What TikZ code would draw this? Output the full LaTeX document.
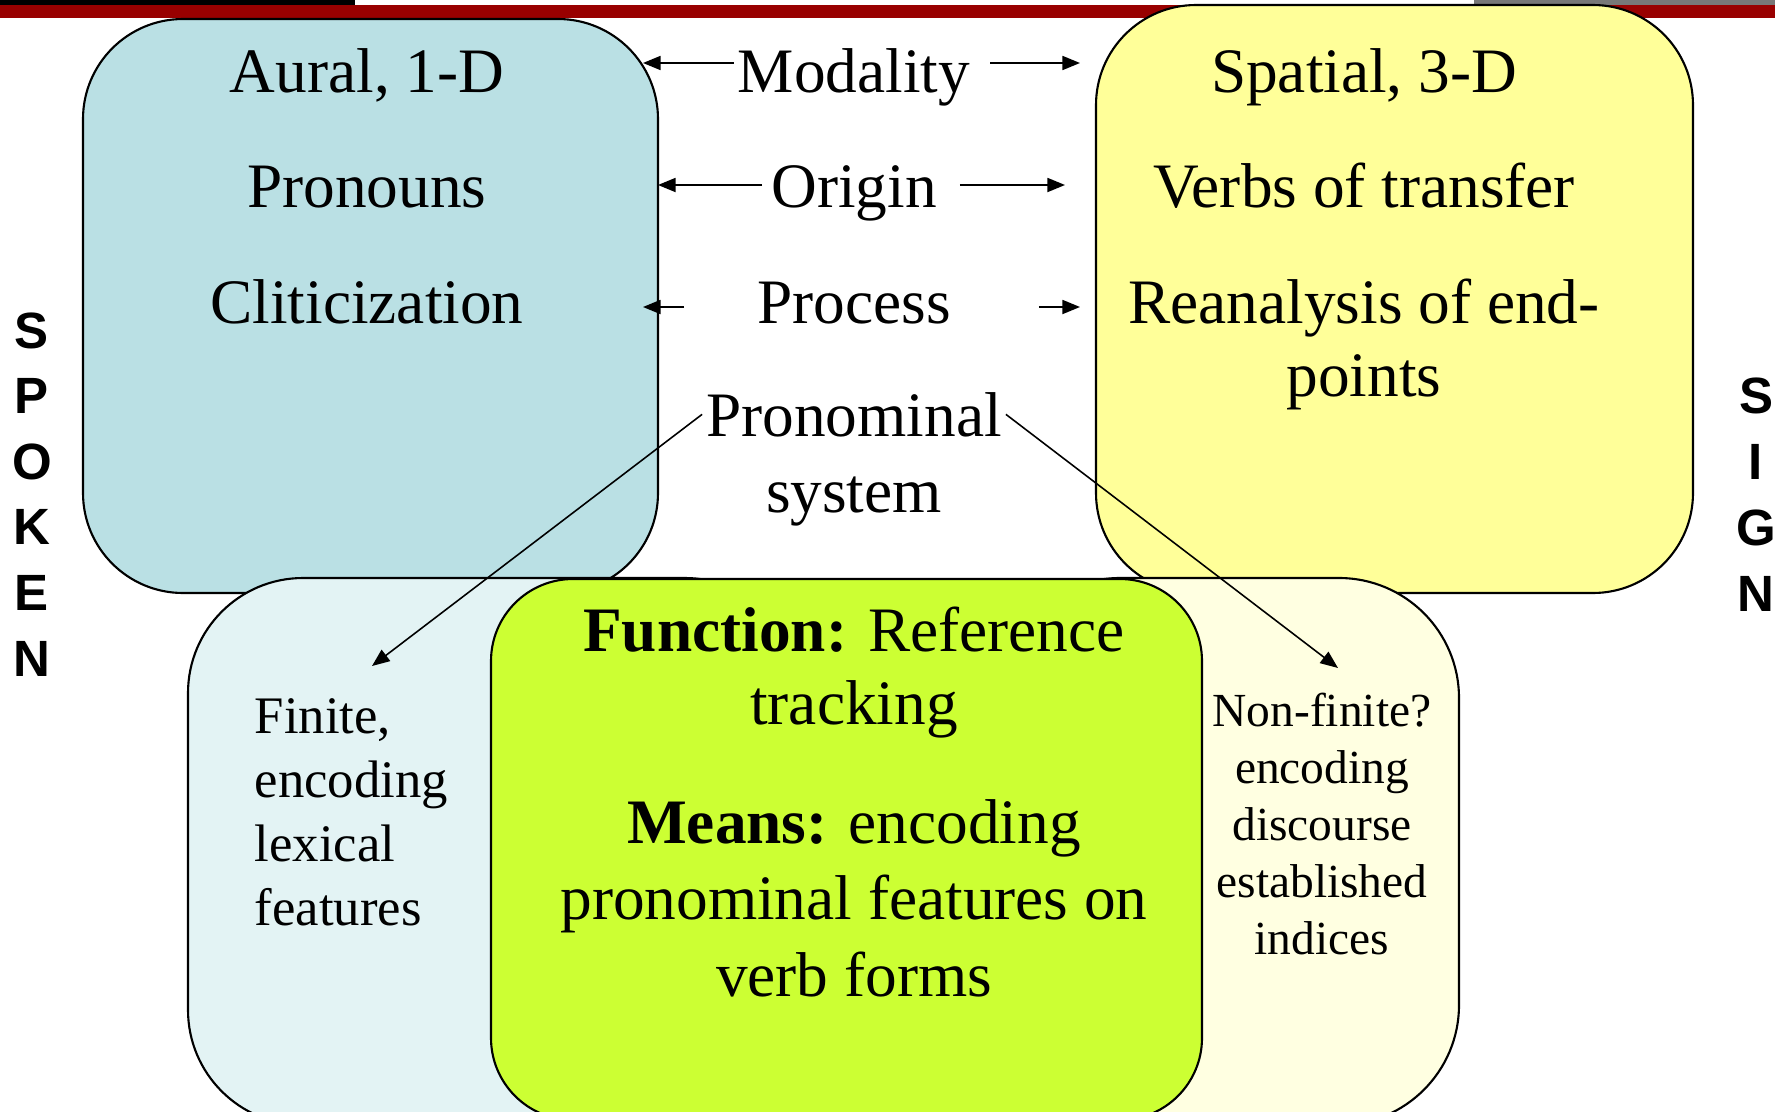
\documentclass[tikz,border=0pt]{standalone}
\usepackage{fontspec}
\setmainfont{Liberation Serif}
\newfontfamily\sidefont{Liberation Sans}
\usetikzlibrary{arrows.meta}

\definecolor{barred}{RGB}{153,0,0}
\definecolor{bargrey}{RGB}{120,120,120}
\definecolor{auralblue}{RGB}{186,224,228}
\definecolor{spatialyellow}{RGB}{255,255,153}
\definecolor{finiteblue}{RGB}{227,243,244}
\definecolor{nonfiniteyellow}{RGB}{255,255,225}
\definecolor{functiongreen}{RGB}{204,255,51}

\tikzset{
  box/.style={draw=black, line width=0.6pt, rounded corners=1cm},
  big/.style={font=\fontsize{18}{21}\selectfont, inner sep=1pt, anchor=base},
  finite/.style={font=\fontsize{15}{18}\selectfont, inner sep=0pt, anchor=base west},
  nonfinite/.style={font=\fontsize{13.5}{16}\selectfont, inner sep=0pt, anchor=base},
  side/.style={font=\sidefont\bfseries\fontsize{14.5}{16}\selectfont, inner sep=0pt},
  arr/.style={-{Triangle[length=5pt,width=4pt]}, line width=0.45pt},
}

\begin{document}
\begin{tikzpicture}[x=0.01cm,y=-0.01cm]
    \useasboundingbox (0,0) rectangle (1775,1112);
    \fill[black] (0,0) rectangle (355,5);
    \fill[bargrey] (1474,0) rectangle (1775,5);
    \fill[barred] (0,5) rectangle (1775,18);

    \draw[box, fill=auralblue] (83,19) rectangle (658,593);
    \draw[box, fill=spatialyellow] (1096,5) rectangle (1693,593);
    \draw[box, fill=finiteblue, rounded corners=1.15cm] (188,578) rectangle (800,1125);
    \draw[box, fill=nonfiniteyellow, rounded corners=1.2cm] (1000,578) rectangle (1459,1125);
    \draw[box, fill=functiongreen, rounded corners=0.82cm] (491,579) rectangle (1202,1120);

    \node[big] (aural) at (367,93) {Aural, 1-D};
    \node[big] (pron) at (367,207) {Pronouns};
    \node[big] (clit) at (367,323) {Cliticization};

    \node[big] (mod) at (854,93) {Modality};
    \node[big] (orig) at (854,207) {Origin};
    \node[big] (proc) at (854,323) {Process};
    \node[big] (pnom) at (854,436) {Pronominal};
    \node[big] (sys) at (854,512) {system};

    \node[big] (spat) at (1364,93) {Spatial, 3-D};
    \node[big] (verbs) at (1364,207) {Verbs of transfer};
    \node[big] (rean) at (1364,323) {Reanalysis of end-};
    \node[big] (pts) at (1364,396) {points};

    \node[big] (func) at (854,651) {\textbf{Function:} Reference};
    \node[big] (track) at (854,724) {tracking};
    \node[big] (means) at (854,843) {\textbf{Means:} encoding};
    \node[big] (feat) at (854,919) {pronominal features on};
    \node[big] (verb) at (854,996) {verb forms};

    \foreach \w [count=\i] in {{Finite,},encoding,lexical,features}
        \node[finite] (fin\i) at (254,{669+64*\i}) {\w};
    \foreach \w [count=\i] in {Non-finite?,encoding,discourse,established,indices}
        \node[nonfinite] (non\i) at (1322,{669+57*\i}) {\w};

    \foreach \l [count=\i] in {S,P,O,K,E,N}
        \node[side] (spoken\i) at (32,{265+65.6*\i}) {\l};
    \foreach \l [count=\i] in {S,I,G,N}
        \node[side] (sign\i) at (1756,{330+66*\i}) {\l};

    \coordinate (modL) at (643,63);
    \coordinate (modR) at (1080,63);
    \coordinate (origL) at (658,185);
    \coordinate (origR) at (1065,185);
    \coordinate (procL) at (643,307);
    \coordinate (procR) at (1080,307);
    \coordinate (finTip) at (372,666);
    \coordinate (nonTip) at (1338,668);

    \draw[arr] (mod.west |- modL) -- (modL);
    \draw[arr] ([xshift=0.16cm]mod.east |- modR) -- (modR);
    \draw[arr] ([xshift=-0.05cm]orig.west |- origL) -- (origL);
    \draw[arr] ([xshift=0.19cm]orig.east |- origR) -- (origR);
    \draw[arr] ([xshift=-0.69cm]proc.west |- procL) -- (procL);
    \draw[arr] ([xshift=0.84cm]proc.east |- procR) -- (procR);
    \draw[arr] (pnom.west) -- (finTip);
    \draw[arr] (pnom.east) -- (nonTip);
\end{tikzpicture}
\end{document}
